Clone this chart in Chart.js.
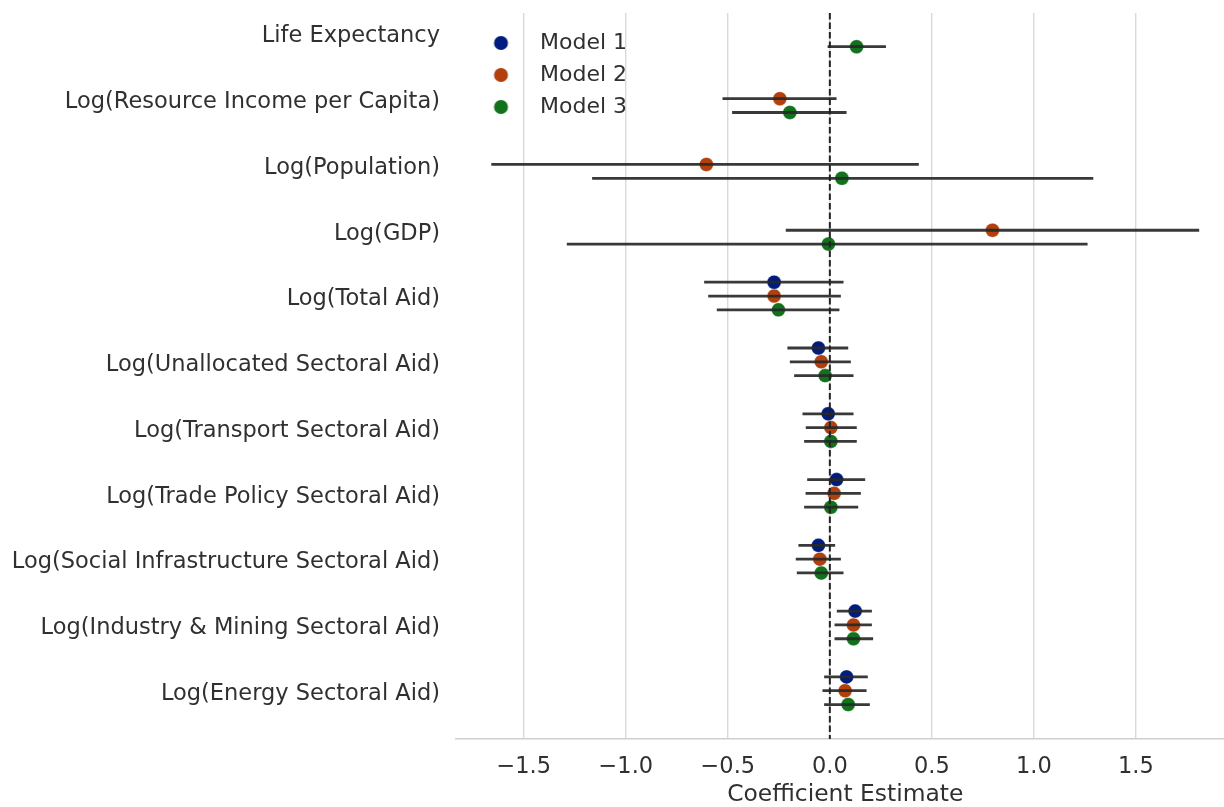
<!DOCTYPE html>
<html>
<head>
<meta charset="utf-8">
<script src="https://cdn.jsdelivr.net/npm/chart.js@4.4.1/dist/chart.umd.min.js"></script>
<style>
  html, body { margin: 0; padding: 0; background: #ffffff; overflow: hidden; }
  /* the figure is a little wider than the page; its right edge is cut off */
  #wrap { width: 1224px; height: 807px; overflow: hidden; }
</style>
</head>
<body>
<div id="wrap"><canvas id="coefChart" width="1236" height="807"></canvas></div>
<script>
// Regressors, top to bottom
const variables = [
  'Life Expectancy',
  'Log(Resource Income per Capita)',
  'Log(Population)',
  'Log(GDP)',
  'Log(Total Aid)',
  'Log(Unallocated Sectoral Aid)',
  'Log(Transport Sectoral Aid)',
  'Log(Trade Policy Sectoral Aid)',
  'Log(Social Infrastructure Sectoral Aid)',
  'Log(Industry & Mining Sectoral Aid)',
  'Log(Energy Sectoral Aid)'
];

const models = ['Model 1', 'Model 2', 'Model 3'];

// Point estimates and 95% interval bounds (null = regressor not in model)
const model1Est  = [null, null, null, null, -0.273, -0.056, -0.008, 0.033, -0.056, 0.124, 0.082];
const model1Low  = [null, null, null, null, -0.616, -0.208, -0.134, -0.111, -0.154, 0.034, -0.028];
const model1High = [null, null, null, null, 0.067, 0.090, 0.116, 0.173, 0.026, 0.206, 0.186];

const model2Est  = [null, -0.245, -0.605, 0.797, -0.273, -0.042, 0.005, 0.021, -0.049, 0.116, 0.075];
const model2Low  = [null, -0.526, -1.659, -0.216, -0.596, -0.196, -0.118, -0.119, -0.167, 0.023, -0.036];
const model2High = [null, 0.033, 0.436, 1.810, 0.054, 0.103, 0.132, 0.152, 0.054, 0.206, 0.180];

const model3Est  = [0.131, -0.196, 0.059, -0.007, -0.252, -0.023, 0.005, 0.005, -0.042, 0.116, 0.090];
const model3Low  = [-0.011, -0.479, -1.165, -1.289, -0.554, -0.175, -0.126, -0.126, -0.162, 0.023, -0.028];
const model3High = [0.275, 0.082, 1.291, 1.263, 0.047, 0.116, 0.132, 0.139, 0.067, 0.212, 0.196];

const xTickValues = [-1.5, -1.0, -0.5, 0.0, 0.5, 1.0, 1.5];

// ---- styling ----
const FONT = "'DejaVu Sans', 'Liberation Sans', sans-serif";
const TEXT_COLOR = '#303030';
const FONT_SIZE = 22.5;
const modelColors = ['#001c7f', '#b1400d', '#12711c'];
const rowDodge = [-0.21, 0, 0.21];
const X_MIN = -1.832, X_MAX = 1.983;
const Y_MIN = -0.3025, Y_MAX = 10.734;

const estimates = [model1Est, model2Est, model3Est];
const lows = [model1Low, model2Low, model3Low];
const highs = [model1High, model2High, model3High];

Chart.defaults.font.family = FONT;
Chart.defaults.color = TEXT_COLOR;

// One scatter dataset of dots per model
const pointSets = models.map((name, m) => ({
  label: name,
  data: estimates[m]
    .map((v, i) => (v === null ? null : { x: v, y: i + rowDodge[m] }))
    .filter(p => p !== null),
  backgroundColor: modelColors[m],
  borderColor: 'rgba(255,255,255,0.6)',
  borderWidth: 0.6,
  pointRadius: 7,
  pointHoverRadius: 7,
  showLine: false,
  order: 2
}));

// Interval whiskers per model: segments separated by gaps
const barSets = models.map((name, m) => {
  const pts = [];
  lows[m].forEach((lo, i) => {
    if (lo === null) return;
    const y = i + rowDodge[m];
    pts.push({ x: lo, y: y }, { x: highs[m][i], y: y }, { x: null, y: null });
  });
  return {
    label: name + ' CI',
    data: pts,
    showLine: true,
    spanGaps: false,
    borderColor: 'rgba(40,40,40,0.92)',
    borderWidth: 2.8,
    pointRadius: 0,
    pointHoverRadius: 0,
    order: 1
  };
});

// Reference line at zero
const zeroLine = {
  label: 'zero',
  data: [{ x: 0, y: Y_MIN }, { x: 0, y: Y_MAX }],
  showLine: true,
  borderColor: '#222222',
  borderWidth: 2,
  borderDash: [6.5, 3],
  pointRadius: 0,
  pointHoverRadius: 0,
  order: 0
};

// Legend dot drawn on a small canvas, nudged right inside its box
function legendDot(color) {
  const c = document.createElement('canvas');
  c.width = 30; c.height = 16;
  const g = c.getContext('2d');
  g.fillStyle = color;
  g.beginPath();
  g.arc(15 + 3.5, 8, 7, 0, Math.PI * 2);
  g.fill();
  return c;
}
const legendDots = modelColors.map(legendDot);

new Chart(document.getElementById('coefChart'), {
  type: 'scatter',
  data: { datasets: [...pointSets, ...barSets, zeroLine] },
  options: {
    responsive: false,
    devicePixelRatio: 1,
    animation: false,
    layout: { autoPadding: false, padding: { top: 13, right: 1.5, bottom: 0, left: 0 } },
    plugins: {
      tooltip: { enabled: false },
      legend: {
        position: 'chartArea',
        align: 'start',
        title: { display: true, text: '', font: { size: 22, lineHeight: 1 }, padding: 0 },
        labels: {
          usePointStyle: true,
          pointStyleWidth: 63,
          boxHeight: 10,
          padding: 10,
          color: TEXT_COLOR,
          font: { size: 22, family: FONT },
          generateLabels(chart) {
            return models.map((name, m) => ({
              text: name,
              datasetIndex: m,
              fillStyle: modelColors[m],
              strokeStyle: modelColors[m],
              lineWidth: 0,
              pointStyle: legendDots[m],
              hidden: false,
              fontColor: TEXT_COLOR
            }));
          }
        }
      }
    },
    scales: {
      x: {
        type: 'linear',
        min: X_MIN,
        max: X_MAX,
        afterBuildTicks(scale) { scale.ticks = xTickValues.map(v => ({ value: v })); },
        afterFit(scale) {
          scale.height = 68;
          scale.paddingLeft = 0; scale.paddingRight = 0;
        },
        grid: { color: '#d9d9d9', lineWidth: 1.4, drawTicks: false },
        border: { display: true, color: '#cfcfcf', width: 1.5 },
        ticks: {
          padding: 15,
          color: TEXT_COLOR,
          font: { size: FONT_SIZE, family: FONT },
          callback: v => v.toFixed(1).replace('-', '\u2212')
        },
        title: {
          display: true,
          text: 'Coefficient Estimate',
          color: TEXT_COLOR,
          font: { size: 23.4, family: FONT, lineHeight: 1 },
          padding: { top: 0, bottom: 0 }
        }
      },
      y: {
        type: 'linear',
        reverse: true,
        min: Y_MIN,
        max: Y_MAX,
        afterBuildTicks(scale) { scale.ticks = variables.map((_, i) => ({ value: i })); },
        afterFit(scale) {
          scale.width = 456;
          scale.paddingTop = 0; scale.paddingBottom = 0;
        },
        grid: { display: false, drawTicks: false },
        border: { display: false },
        ticks: {
          padding: 16,
          labelOffset: 3.5,
          color: TEXT_COLOR,
          font: { size: FONT_SIZE, family: FONT },
          callback: v => variables[v]
        }
      }
    }
  }
});
</script>
</body>
</html>
